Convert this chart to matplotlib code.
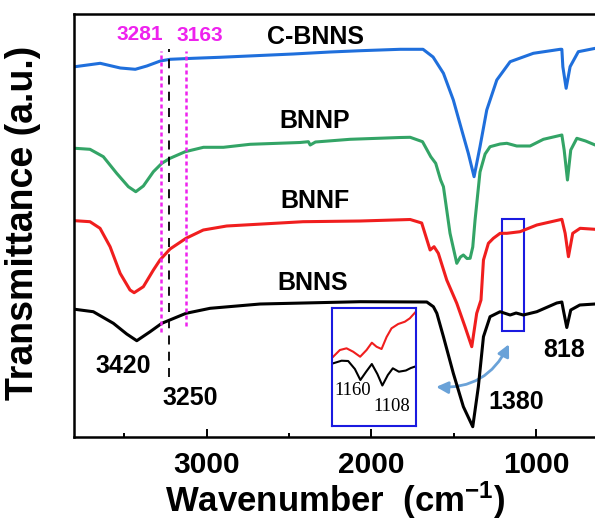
import matplotlib
matplotlib.use("Agg")
import matplotlib.pyplot as plt
from matplotlib.patches import Rectangle, FancyArrowPatch

plt.rcParams['font.family'] = ['Liberation Sans', 'Noto Sans CJK SC', 'DejaVu Sans']
plt.rcParams['font.weight'] = 'bold'
plt.rcParams['mathtext.default'] = 'regular'

# FTIR spectra (wavenumber, offset transmittance in a.u.)
wn_cbnns = [3800, 3647, 3525, 3434, 3364, 3282, 3223, 3082, 2920, 2475, 2251, 2066, 1825, 1687,
            1626, 1563, 1503, 1452, 1412, 1377, 1341, 1300, 1239, 1158, 1017, 854, 844, 838,
            818, 794, 744, 640, 620]
t_cbnns = [370.3, 373.7, 369.0, 367.7, 371.0, 376.0, 377.7, 378.7, 379.7, 383.0, 385.0, 386.3, 387.7, 387.7,
           380.0, 363.7, 337.0, 307.0, 283.7, 260.3, 290.3, 327.0, 357.0, 375.3, 383.7, 387.7, 387.7, 370.3,
           348.7, 370.3, 385.3, 388.7, 389.0]

wn_bnnp = [3800, 3709, 3628, 3547, 3476, 3431, 3385, 3324, 3273, 3223, 3131, 3020, 2899, 2737,
           2434, 2383, 2372, 2340, 2130, 1825, 1765, 1690, 1640, 1610, 1580, 1563, 1523, 1482,
           1460, 1442, 1420, 1401, 1385, 1371, 1341, 1310, 1280, 1219, 1178, 1118, 1037, 956,
           844, 830, 810, 790, 753, 700, 642, 620]
t_bnnp = [288.7, 287.7, 280.3, 263.7, 250.3, 245.3, 251.0, 265.3, 273.7, 278.7, 285.3, 289.7, 289.7, 292.7,
          294.5, 295.3, 292.0, 295.0, 297.7, 299.5, 299.7, 295.3, 280.3, 273.7, 257.0, 250.3, 203.7, 173.7,
          180.0, 182.0, 178.5, 178.7, 190.0, 217.0, 265.0, 283.0, 290.3, 293.0, 293.7, 291.0, 291.0, 297.7,
          302.0, 287.0, 257.0, 287.0, 298.7, 296.0, 292.0, 291.0]

wn_bnnf = [3800, 3709, 3648, 3587, 3526, 3466, 3441, 3385, 3324, 3284, 3223, 3126, 3021, 2879,
           2415, 2069, 1765, 1695, 1644, 1620, 1594, 1543, 1482, 1432, 1391, 1361, 1335, 1320,
           1290, 1260, 1219, 1178, 1098, 996, 844, 824, 804, 778, 733, 642, 620]
t_bnnf = [216.3, 215.3, 208.7, 190.3, 163.7, 147.0, 144.3, 150.3, 167.0, 177.0, 188.0, 198.7, 207.0, 211.0,
          215.3, 216.0, 217.5, 214.0, 187.0, 190.3, 183.7, 157.0, 133.7, 110.3, 90.3, 123.7, 137.0, 177.0,
          193.7, 198.7, 203.7, 203.7, 205.3, 212.0, 217.7, 203.7, 180.3, 203.7, 208.7, 207.7, 207.5]

wn_bnns = [3800, 3689, 3567, 3486, 3425, 3344, 3273, 3126, 2980, 2676, 2069, 1664, 1624, 1603,
           1563, 1503, 1442, 1385, 1351, 1320, 1280, 1219, 1158, 1122, 1078, 996, 875, 844,
           835, 814, 790, 735, 642, 620]
t_bnns = [127.7, 125.3, 113.7, 103.0, 96.3, 105.3, 113.7, 123.7, 128.7, 133.0, 135.3, 135.0, 130.3, 123.7,
          100.3, 63.7, 30.3, 10.3, 50.3, 100.3, 120.3, 125.3, 122.0, 124.0, 122.0, 125.3, 134.0, 135.0,
          127.0, 109.5, 127.0, 132.0, 133.0, 133.0]

# magnified 1230-1030 region shown in the inset
wn_inset_f = [1225.5, 1209.5, 1193.6, 1177.8, 1161.1, 1145.8, 1133.2, 1122.0, 1110.0, 1098.0,
              1086.2, 1070.4, 1054.4, 1042.5, 1028.2]
t_inset_f = [80.3, 87.0, 88.7, 85.3, 80.3, 87.0, 94.3, 90.3, 88.0, 100.0, 108.7, 113.0, 115.3, 118.7, 125.3]
wn_inset_s = [1225.5, 1205.5, 1189.7, 1173.7, 1160.6, 1146.8, 1133.2, 1120.0, 1108.1, 1095.0,
              1083.1, 1068.7, 1052.0, 1040.1, 1028.2]
t_inset_s = [73.7, 76.3, 76.0, 68.0, 57.0, 65.3, 73.0, 63.0, 51.5, 62.0, 68.7, 65.3, 66.5, 69.0, 70.7]

labels = ["C-BNNS", "BNNP", "BNNF", "BNNS"]
colors = ["#1f6fdc", "#33a466", "#f01e1e", "#000000"]
label_pos = [(2342, 400.3), (2342, 316), (2342, 236), (2358, 153.7)]

peaks = ["3420", "3250", "1380", "818"]
peak_pos = [(3506, 71), (3101, 38.7), (1124, 35.3), (829, 87)]
mag_lines = [3279, 3127]
mag_labels = ["3281", "3163"]
mag_label_pos = [(3405, 402), (3043, 401.5)]

fig = plt.figure(figsize=(5.95, 5.24), dpi=100)
ax = fig.add_axes([0.1244, 0.1660, 0.8819, 0.8073])

series = [(wn_cbnns, t_cbnns), (wn_bnnp, t_bnnp), (wn_bnnf, t_bnnf), (wn_bnns, t_bnns)]
for (x, y), c in zip(series, colors):
    ax.plot(x, y, color=c, lw=2.2, solid_joinstyle="round")

for name, (x, y) in zip(labels, label_pos):
    ax.text(x, y, name, ha="center", va="center", fontsize=18, fontweight="bold")
for name, (x, y) in zip(peaks, peak_pos):
    ax.text(x, y, name, ha="center", va="center", fontsize=18, fontweight="bold")

# guide lines
ax.plot([3230, 3230], [60.3, 387.7], color="black", lw=1.3, ls=(0, (5, 4)))
ax.plot([mag_lines[0]] * 2, [105.3, 386.3], color="#ee22ee", lw=1.8, ls=(0, (1.6, 1.2)))
ax.plot([mag_lines[1]] * 2, [111.0, 386.3], color="#ee22ee", lw=1.8, ls=(0, (1.6, 1.2)))
for name, (x, y) in zip(mag_labels, mag_label_pos):
    ax.text(x, y, name, ha="center", va="center", fontsize=15, fontweight="bold", color="#ee22ee")

ax.add_patch(Rectangle((1072, 106.3), 137, 111.7, fill=False, ec="#1a1ae0", lw=1.5))
arrow = FancyArrowPatch((1624, 50.3), (1158, 95.3), arrowstyle="<|-|>,head_length=7,head_width=3.5",
                        connectionstyle="arc3,rad=0.35", color="#6aa2d8", lw=2.0)
ax.add_patch(arrow)

ax.set_xlim(3806, 620)
ax.set_ylim(0, 423)
ax.set_xticks([3000, 2000, 1000])
ax.set_xticks([3500, 2500, 1500], minor=True)
ax.set_yticks([])
ax.tick_params(axis="x", which="major", direction="in", length=6, width=1.4, pad=10, labelsize=21.5)
ax.tick_params(axis="x", which="minor", direction="in", length=3, width=1.4)
for lab in ax.get_xticklabels():
    lab.set_fontweight("bold")
for side in ["left", "bottom", "top"]:
    ax.spines[side].set_linewidth(1.8)
ax.spines["right"].set_visible(False)

ax.set_xlabel("Wavenumber  (cm$^{-1}$)", fontsize=25, fontweight="bold", va="bottom")
ax.xaxis.set_label_coords(0.497, -0.199)
ax.set_ylabel("Transmittance (a.u.)", fontsize=27, fontweight="bold")
ax.yaxis.set_label_coords(-0.062, 0.506)

# inset zoom of the 1160 / 1108 bands
axin = fig.add_axes([0.5575, 0.1876, 0.1422, 0.2240])
axin.plot(wn_inset_f, t_inset_f, color=colors[2], lw=1.5)
axin.plot(wn_inset_s, t_inset_s, color=colors[3], lw=1.5)
axin.set_xlim(1229, 1027)
axin.set_ylim(11.3, 128.7)
axin.set_xticks([])
axin.set_yticks([])
for s in axin.spines.values():
    s.set_color("#1a1ae0")
    s.set_linewidth(1.5)
axin.text(1178.5, 46.3, "1160", ha="center", va="center", fontsize=13.5,
          family="Liberation Serif", fontweight="normal")
axin.text(1086, 30.3, "1108", ha="center", va="center", fontsize=13.5,
          family="Liberation Serif", fontweight="normal")

fig.savefig("out.png", dpi=100)
